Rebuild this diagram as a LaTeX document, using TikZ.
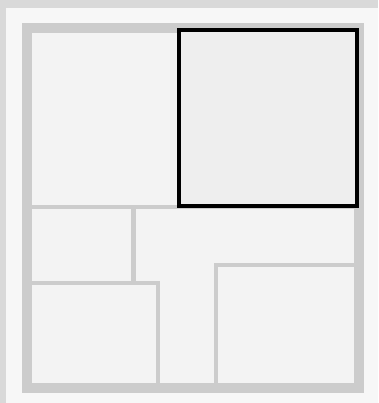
\documentclass[tikz,border=0pt]{standalone}
\usepackage{tikz}
\usepackage{xcolor}
\definecolor{pagegray}{HTML}{D9D9D9}
\definecolor{panelwhite}{HTML}{F7F7F7}
\definecolor{floorgray}{HTML}{F3F3F3}
\definecolor{wallgray}{HTML}{CCCCCC}
\definecolor{roomsel}{HTML}{EEEEEE}
\begin{document}
\begin{tikzpicture}[x=0.05cm,y=-0.05cm,
  outerwall/.style={draw=wallgray,line width=14.2pt},
  innerwall/.style={draw=wallgray,line width=5.7pt}]
\useasboundingbox (0,0) rectangle (378,403);
\fill[pagegray] (0,0) rectangle (378,403);
\fill[panelwhite] (6,8) rectangle (378,403);
\fill[floorgray] (27,28) rectangle (359,388);
% inner walls
\draw[innerwall] (27,207) -- (359,207);
\draw[innerwall] (133.5,207) -- (133.5,283);
\draw[innerwall] (27,283) -- (158,283) -- (158,388);
\draw[innerwall] (216,388) -- (216,265) -- (359,265);
% outer wall
\draw[outerwall] (27,28) rectangle (359,388);
% selected room
\filldraw[fill=roomsel,draw=black,line width=5.7pt] (179,30) rectangle (356.5,206);
\end{tikzpicture}
\end{document}
